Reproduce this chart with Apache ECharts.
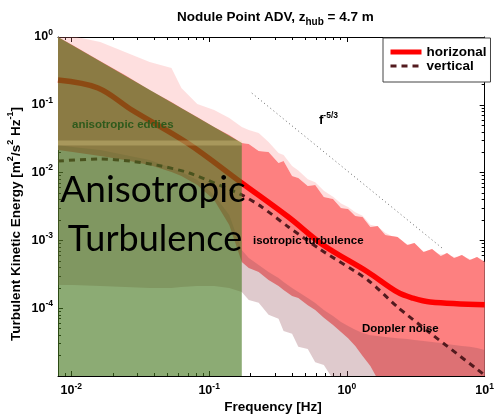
<!DOCTYPE html>
<html><head><meta charset="utf-8">
<script src="https://cdn.jsdelivr.net/npm/echarts@6/dist/echarts.min.js"></script>
<style>html,body{margin:0;padding:0;background:#fff}#c{width:497px;height:414px}</style>
</head><body><div id="c"></div>
<script>
// ---- data ----
// envelope of the individual spectra (shared frequency grid, Hz)
const bandFreq = [0.008, 0.0102, 0.0162, 0.0245, 0.037, 0.0533, 0.0629, 0.082, 0.1087, 0.14, 0.1726,
  0.194, 0.229, 0.27, 0.319, 0.347, 0.40, 0.444, 0.52, 0.589, 0.68,
  0.793, 0.906, 1.02, 1.15, 1.30, 1.48, 1.67, 1.9, 2.33, 2.75,
  3.09, 3.6, 4.15, 4.8, 5.33, 6.0, 6.83, 7.8, 8.8, 10];
// horizontal spectra: sparse outer upper edge, dense upper edge, lower edge
const hSparseUpper = [1.27, 1.03, 0.844, 0.601, 0.428, 0.349, 0.177, 0.103, 0.0838, 0.0638, 0.0471,
  0.0425, 0.0384, 0.0283, 0.0195, 0.0182, 0.0125, 0.0107, 0.0080, 0.0072, 0.0054,
  0.0044, 0.0035, 0.0031, 0.0026, 0.0023, 0.0017, 0.0016, 0.0013, 0.00105, 8.8e-4,
  8.6e-4, 6.9e-4, 6.9e-4, 6.2e-4, 6.3e-4, 5.7e-4, 5.9e-4, 5.3e-4, 5.4e-4, 5.0e-4];
const hDenseUpper = [1.0, 0.762, 0.443, 0.275, 0.165, 0.110, 0.0897, 0.0661, 0.0471, 0.0359, 0.0273,
  0.0264, 0.0208, 0.0201, 0.0139, 0.0148, 0.00891, 0.00832, 0.00634, 0.00656, 0.00437,
  0.00408, 0.00301, 0.00290, 0.00229, 0.00221, 0.00158, 0.00163, 0.00120, 0.00112, 8.55e-4,
  9.16e-4, 6.75e-4, 7.47e-4, 5.89e-4, 6.52e-4, 5.50e-4, 6.09e-4, 5.14e-4, 5.69e-4, 4.80e-4];
const hLower = [0.0215, 0.0201, 0.0176, 0.0153, 0.0129, 0.0102, 0.00891, 0.00656, 0.00394, 0.00169, 4.8e-4,
  3.92e-4, 3.42e-4, 2.61e-4, 2.12e-4, 1.85e-4, 1.51e-4, 1.41e-4, 1.11e-4, 9.4e-5, 7.2e-5,
  5.65e-5, 4.45e-5, 3.6e-5, 2.77e-5, 1.97e-5, 1.4e-5, 9e-6, 9e-6, 9e-6, 9e-6,
  9e-6, 9e-6, 9e-6, 9e-6, 9e-6, 9e-6, 9e-6, 9e-6, 9e-6, 9e-6];
// vertical spectra envelope
const vUpper = [0.0255, 0.0239, 0.0215, 0.0182, 0.0153, 0.0117, 0.0102, 0.00778, 0.00468, 0.00237, 7.22e-4,
  5.5e-4, 4.34e-4, 3.42e-4, 2.79e-4, 2.43e-4, 1.99e-4, 1.73e-4, 1.41e-4, 1.19e-4, 9.4e-5,
  7.67e-5, 6.25e-5, 5.46e-5, 4.8e-5, 4.31e-5, 4.0e-5, 3.89e-5, 3.76e-5, 3.6e-5, 3.52e-5,
  3.4e-5, 3.28e-5, 3.17e-5, 3.07e-5, 2.96e-5, 2.87e-5, 2.77e-5, 2.7e-5, 2.59e-5, 2.42e-5];
const vLower = [2.2e-4, 2.2e-4, 2.12e-4, 2.06e-4, 1.99e-4, 1.99e-4, 2.06e-4, 2.12e-4, 2.12e-4, 1.99e-4, 1.73e-4,
  1.32e-4, 1.20e-4, 8.0e-5, 7.0e-5, 4.6e-5, 4.2e-5, 2.7e-5, 2.5e-5, 1.6e-5, 1.45e-5,
  9e-6, 9e-6, 9e-6, 9e-6, 9e-6, 9e-6, 9e-6, 9e-6, 9e-6, 9e-6,
  9e-6, 9e-6, 9e-6, 9e-6, 9e-6, 9e-6, 9e-6, 9e-6, 9e-6, 9e-6];
// mean spectra
const hFreq = [0.008, 0.0156, 0.0275, 0.0695, 0.1726, 0.376, 0.672, 1.416, 2.33, 3.0, 4.02, 10];
const hMean = [0.232, 0.177, 0.0838, 0.0273, 0.00703, 0.00221, 8.55e-4, 3.42e-4, 1.72e-4, 1.41e-4, 1.23e-4, 1.12e-4];
const vFreq = [0.008, 0.0162, 0.0266, 0.0416, 0.0718, 0.1726, 0.241, 0.376, 0.65, 1.416, 2.33, 4.02, 10];
const vMean = [0.0148, 0.0159, 0.0148, 0.0129, 0.00986, 0.00468, 0.00311, 0.00158, 7.22e-4, 2.61e-4, 1.04e-4, 4.31e-5, 1.03e-5];
// f^-5/3 reference line
const slopeFreq = [0.204, 4.9];
const slopeVal = [0.149, 7.73e-4];
// anisotropic region (shaded)
const anisoFreq = [0.008, 0.1726];
const anisoTop = [1, 0.0273];
const anisoBottom = 1e-5;
// axes
const xMin = 0.008, xMax = 10, yMin = 1e-5, yMax = 1;
const xMajor = [0.01, 0.1, 1, 10];
const xMinor = [0.009, 0.02, 0.03, 0.04, 0.05, 0.06, 0.07, 0.08, 0.09, 0.2, 0.3, 0.4, 0.5, 0.6, 0.7, 0.8, 0.9, 2, 3, 4, 5, 6, 7, 8, 9];
const yMajor = [1e-5, 1e-4, 1e-3, 1e-2, 0.1, 1];
const yLabels = [1e-4, 1e-3, 1e-2, 0.1, 1];
const yMinor = [2e-5,3e-5,4e-5,5e-5,6e-5,7e-5,8e-5,9e-5, 2e-4,3e-4,4e-4,5e-4,6e-4,7e-4,8e-4,9e-4,
  2e-3,3e-3,4e-3,5e-3,6e-3,7e-3,8e-3,9e-3, 0.02,0.03,0.04,0.05,0.06,0.07,0.08,0.09, 0.2,0.3,0.4,0.5,0.6,0.7,0.8,0.9];

// ---- chart ----
const font = '"Liberation Sans", Arial, Helvetica, sans-serif';
const chart = echarts.init(document.getElementById('c'), null, {renderer: 'canvas'});
function logLabel(v) { const e = Math.round(Math.log10(v)); return '{b|10}{s|' + e + '}'; }
const richLab = {
  b: {fontFamily: font, fontWeight: 'bold', fontSize: 12.5, lineHeight: 18, color: '#000'},
  s: {fontFamily: font, fontWeight: 'bold', fontSize: 8.5, lineHeight: 10, verticalAlign: 'top', color: '#000'}
};
function axis(kind, pos, ticks, len, labels, line) {
  return {
    type: 'log', logBase: 10, position: pos,
    min: kind === 'x' ? xMin : yMin, max: kind === 'x' ? xMax : yMax,
    splitLine: {show: false}, minorTick: {show: false}, minorSplitLine: {show: false},
    axisLine: {show: line, lineStyle: {color: '#000', width: 1}},
    axisTick: {show: true, inside: true, length: len, customValues: ticks, lineStyle: {color: '#000', width: 1}},
    axisLabel: labels ? {show: true, customValues: labels, formatter: logLabel, margin: kind === 'x' ? 6 : 5, rich: richLab} : {show: false},
    axisPointer: {show: false}
  };
}
function band(upper, lower, color, z) {
  return {
    type: 'custom', clip: true, silent: true, z: z,
    data: [[1, 0.01]],
    renderItem: function (params, api) {
      const pts = [];
      for (let i = 0; i < bandFreq.length; i++) pts.push(api.coord([bandFreq[i], upper[i]]));
      for (let i = bandFreq.length - 1; i >= 0; i--) pts.push(api.coord([bandFreq[i], lower[i]]));
      return {type: 'polygon', shape: {points: pts}, style: {fill: color}};
    }
  };
}
const green = {
  type: 'custom', clip: true, silent: true, z: 5,
  data: [[0.05, 0.01]],
  renderItem: function (params, api) {
    const pts = [
      api.coord([anisoFreq[0], anisoTop[0]]), api.coord([anisoFreq[1], anisoTop[1]]),
      api.coord([anisoFreq[1], anisoBottom]), api.coord([anisoFreq[0], anisoBottom])
    ];
    const a = api.coord([anisoFreq[0], anisoTop[1]]);
    const b = api.coord([anisoFreq[1], anisoTop[1]]);
    return {type: 'group', children: [
      {type: 'polygon', shape: {points: pts}, style: {fill: 'rgba(70,120,30,0.62)'}},
      {type: 'line', shape: {x1: a[0], y1: a[1], x2: b[0], y2: b[1]}, style: {stroke: 'rgba(235,220,150,0.3)', lineWidth: 5}}
    ]};
  }
};
const option = {
  animation: false,
  backgroundColor: '#fff',
  title: {
    text: '{a|Nodule Point ADV, z}{s|hub}{a| = 4.7 m}',
    left: 172, top: 2,
    textStyle: {rich: {
      a: {fontFamily: font, fontWeight: 'bold', fontSize: 13.5, lineHeight: 20, color: '#000'},
      s: {fontFamily: font, fontWeight: 'bold', fontSize: 10, lineHeight: 11, verticalAlign: 'bottom', color: '#000'}
    }}
  },
  grid: {left: 58, right: 8, top: 37, bottom: 38, containLabel: false},
  xAxis: [
    axis('x', 'bottom', xMajor, 5, xMajor, true),
    axis('x', 'bottom', xMinor, 3, null, false),
    axis('x', 'top', xMajor, 5, null, true),
    axis('x', 'top', xMinor, 3, null, false)
  ],
  yAxis: [
    axis('y', 'left', yMajor, 5, yLabels, true),
    axis('y', 'left', yMinor, 3, null, false),
    axis('y', 'right', yMajor, 5, null, true),
    axis('y', 'right', yMinor, 3, null, false)
  ],
  legend: {
    data: [
      {name: 'horizonal', lineStyle: {width: 5}, itemStyle: {opacity: 0}},
      {name: 'vertical', lineStyle: {width: 3}, itemStyle: {opacity: 0}}
    ],
    orient: 'vertical', left: 383, top: 38, z: 20,
    itemWidth: 31, itemHeight: 12, itemGap: 0,
    padding: [7, 4, 9, 5],
    borderColor: '#444', borderWidth: 1, backgroundColor: '#fff',
    selectedMode: false,
    textStyle: {fontFamily: font, fontWeight: 'bold', fontSize: 13.5, color: '#000', lineHeight: 12}
  },
  series: [
    band(hSparseUpper, hDenseUpper, 'rgba(253,128,128,0.25)', 1),
    band(hDenseUpper, hLower, 'rgb(253,128,128)', 1),
    band(vUpper, vLower, 'rgba(150,80,90,0.3)', 1),
    {
      name: 'horizonal', type: 'line', z: 3, symbol: 'none', showSymbol: false, smooth: 0.35,
      data: hFreq.map((f, i) => [f, hMean[i]]),
      lineStyle: {color: '#ff0000', width: 5.5}, itemStyle: {color: '#ff0000'}
    },
    {
      name: 'vertical', type: 'line', z: 3, symbol: 'none', showSymbol: false, smooth: 0.25,
      data: vFreq.map((f, i) => [f, vMean[i]]),
      lineStyle: {color: '#521a1e', width: 3, type: [6, 5]}, itemStyle: {color: '#521a1e'}
    },
    {
      type: 'line', z: 3, symbol: 'none', showSymbol: false, silent: true,
      data: slopeFreq.map((f, i) => [f, slopeVal[i]]),
      lineStyle: {color: '#666', width: 1, type: [1, 3]}
    },
    green
  ],
  graphic: [
    {type: 'text', z: 30, x: 72, y: 125, style: {text: 'anisotropic eddies', font: 'bold 11.5px ' + font, fill: '#2e5a1c', align: 'left', verticalAlign: 'middle'}},
    {type: 'text', z: 30, x: 153, y: 190, style: {text: 'Anisotropic', font: '37px Lato, "Noto Sans", sans-serif', fill: '#000', align: 'center', verticalAlign: 'middle'}},
    {type: 'text', z: 30, x: 155, y: 239, style: {text: 'Turbulence', font: '36px Lato, "Noto Sans", sans-serif', fill: '#000', align: 'center', verticalAlign: 'middle'}},
    {type: 'text', z: 30, x: 253, y: 241, style: {text: 'isotropic turbulence', font: 'bold 11.5px ' + font, fill: '#000', align: 'left', verticalAlign: 'middle'}},
    {type: 'text', z: 30, x: 362, y: 329, style: {text: 'Doppler noise', font: 'bold 11.5px ' + font, fill: '#000', align: 'left', verticalAlign: 'middle'}},
    {type: 'text', z: 30, x: 319, y: 120, style: {text: '{f|f}{s|-5/3}', align: 'left', verticalAlign: 'middle', rich: {
      f: {fontFamily: font, fontWeight: 'bold', fontSize: 13, lineHeight: 18, color: '#000'},
      s: {fontFamily: font, fontWeight: 'bold', fontSize: 8.5, lineHeight: 10, verticalAlign: 'top', color: '#000'}
    }}},
    {type: 'text', z: 30, x: 273, y: 407, style: {text: 'Frequency [Hz]', font: 'bold 13.5px ' + font, fill: '#000', align: 'center', verticalAlign: 'middle'}},
    {type: 'text', z: 30, x: 16, y: 224, rotation: Math.PI / 2, style: {
      text: '{a|Turbulent Kinetic Energy [m}{s|2}{a|/s}{s|2}{a| Hz}{s|-1}{a|]}', align: 'center', verticalAlign: 'middle', rich: {
        a: {fontFamily: font, fontWeight: 'bold', fontSize: 13.5, lineHeight: 19, color: '#000'},
        s: {fontFamily: font, fontWeight: 'bold', fontSize: 9, lineHeight: 10, verticalAlign: 'top', color: '#000'}
      }}}
  ]
};
chart.setOption(option);
</script>
</body></html>
